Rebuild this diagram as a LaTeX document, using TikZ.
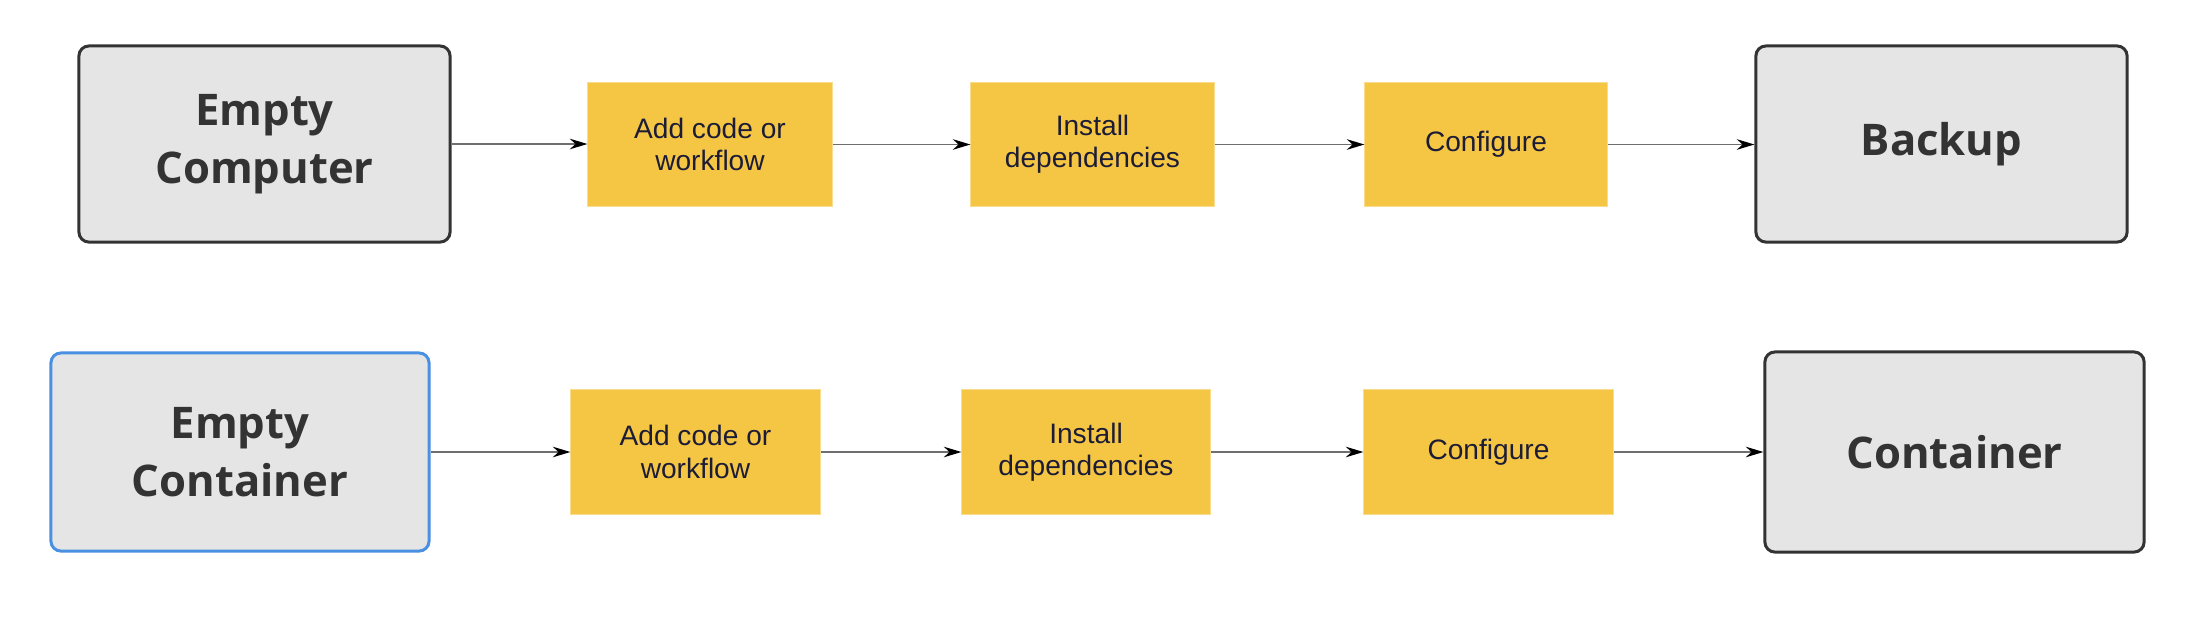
\documentclass[tikz,border=0pt]{standalone}
\usepackage{fontspec}
\setmainfont{Liberation Sans}
\newfontfamily\boxfont{Open Sans}
\usetikzlibrary{arrows.meta}
\definecolor{boxgray}{HTML}{E5E5E5}
\definecolor{boxedge}{HTML}{333333}
\definecolor{boxtext}{HTML}{333333}
\definecolor{boxblue}{HTML}{4A90E2}
\definecolor{stepyellow}{HTML}{F5C644}
\definecolor{steptext}{HTML}{1C1C36}
\definecolor{linegray}{HTML}{6E6E6E}
\tikzset{
  bigbox/.style={draw=boxedge, line width=0.85pt, fill=boxgray, rounded corners=0.1cm,
    text=boxtext, align=center, inner sep=0pt,
    font=\boxfont\bfseries\fontsize{12.4}{16.6}\selectfont},
  stepbox/.style={fill=stepyellow, draw=stepyellow!60!white, line width=0.3pt, text=steptext, align=center, inner sep=0pt,
    font=\fontsize{8}{9.2}\selectfont},
  flow/.style={draw=linegray, line width=0.45pt, -{Stealth[length=5pt,width=3pt,black]}}
}
\begin{document}
\begin{tikzpicture}[x=0.01cm,y=-0.01cm]
\useasboundingbox (0,0) rectangle (2202,624);
% row 1
\node[bigbox, minimum width=3.71cm, minimum height=1.96cm] (ec) at (264.5,144) {Empty\\Computer};
\node[stepbox, minimum width=2.44cm, minimum height=1.23cm] (a1) at (710,144.5) {Add code or\\workflow};
\node[stepbox, minimum width=2.43cm, minimum height=1.23cm] (i1) at (1092.5,144.5) {Install\\dependencies};
\node[stepbox, minimum width=2.42cm, minimum height=1.23cm] (c1) at (1486,144.5) {Configure};
\node[bigbox, minimum width=3.71cm, minimum height=1.96cm] (bk) at (1941.5,144) {Backup};
% row 2
\node[bigbox, draw=boxblue, minimum width=3.78cm, minimum height=1.98cm] (ect) at (240,452) {Empty\\Container};
\node[stepbox, minimum width=2.49cm, minimum height=1.24cm] (a2) at (695.5,452) {Add code or\\workflow};
\node[stepbox, minimum width=2.48cm, minimum height=1.24cm] (i2) at (1086,452) {Install\\dependencies};
\node[stepbox, minimum width=2.49cm, minimum height=1.24cm] (c2) at (1488.5,452) {Configure};
\node[bigbox, minimum width=3.79cm, minimum height=2.00cm] (ct) at (1954.5,452) {Container};
% connectors
\draw[flow] (ec.east) -- (a1.west |- ec.east);
\draw[flow] (a1) -- (i1);
\draw[flow] (i1) -- (c1);
\draw[flow] (c1.east) -- (bk.west |- c1.east);
\draw[flow] (ect) -- (a2);
\draw[flow] (a2) -- (i2);
\draw[flow] (i2) -- (c2);
\draw[flow] (c2) -- (ct);
\end{tikzpicture}
\end{document}
